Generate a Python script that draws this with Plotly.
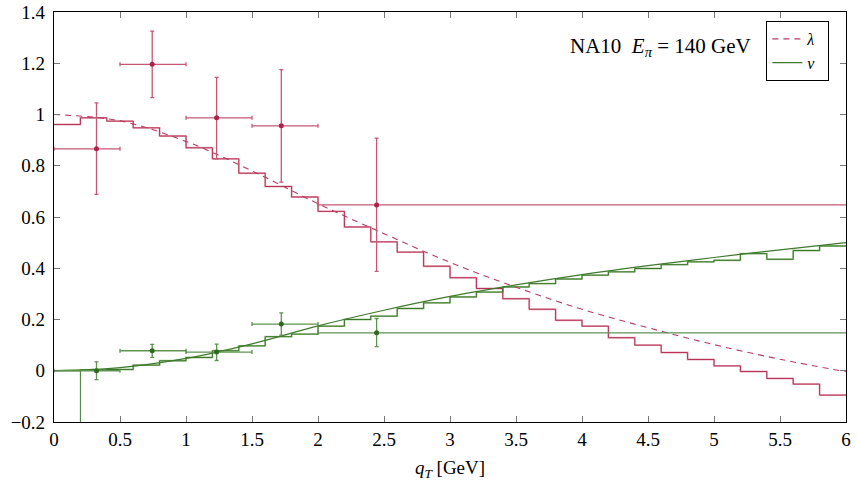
import plotly.graph_objects as go

# ---------------- data ----------------
bin_edges = [round(0.2 * i, 1) for i in range(31)]

lam_hist = [0.961, 0.987, 0.974, 0.948, 0.916, 0.870, 0.827, 0.771, 0.719, 0.678,
            0.622, 0.561, 0.503, 0.463, 0.408, 0.363, 0.321, 0.281, 0.240, 0.197,
            0.174, 0.129, 0.100, 0.071, 0.044, 0.019, -0.003, -0.030, -0.052, -0.095]

nu_hist = [0.0, 0.003, 0.005, 0.022, 0.039, 0.052, 0.078, 0.097, 0.133, 0.143,
           0.174, 0.200, 0.213, 0.243, 0.265, 0.288, 0.307, 0.327, 0.340, 0.358,
           0.373, 0.386, 0.399, 0.414, 0.425, 0.431, 0.457, 0.435, 0.469, 0.487]
nu_hist_first_bin_alt = -1.0   # second histogram: first bin off scale

curve_q = [0.0, 0.5, 1.0, 1.5, 2.0, 2.5, 3.0, 3.5, 4.0, 4.5, 5.0, 5.5, 6.0]
lam_curve = [1.0, 0.975, 0.895, 0.78, 0.652, 0.535, 0.423, 0.326, 0.24, 0.168, 0.102, 0.045, -0.004]
nu_curve = [0.0, 0.012, 0.048, 0.105, 0.175, 0.236, 0.29, 0.335, 0.375, 0.41, 0.442, 0.472, 0.50]

pt_x = [0.322, 0.744, 1.232, 1.722, 2.444]
pt_x_lo = [0.0, 0.5, 1.0, 1.5, 2.0]
pt_x_hi = [0.5, 1.0, 1.5, 2.0, 10.0]

lam_y = [0.866, 1.196, 0.987, 0.956, 0.647]
lam_y_lo = [0.688, 1.066, 0.827, 0.736, 0.388]
lam_y_hi = [1.045, 1.325, 1.145, 1.175, 0.908]

nu_y = [0.0, 0.078, 0.073, 0.182, 0.148]
nu_y_lo = [-0.035, 0.052, 0.040, 0.139, 0.094]
nu_y_hi = [0.035, 0.103, 0.104, 0.226, 0.204]

x_ticks = [0, 0.5, 1, 1.5, 2, 2.5, 3, 3.5, 4, 4.5, 5, 5.5, 6]
x_tick_text = ["0", "0.5", "1", "1.5", "2", "2.5", "3", "3.5", "4", "4.5", "5", "5.5", "6"]
y_ticks = [-0.2, 0, 0.2, 0.4, 0.6, 0.8, 1.0, 1.2, 1.4]
y_tick_text = ["\u22120.2", "0", "0.2", "0.4", "0.6", "0.8", "1", "1.2", "1.4"]

# ---------------- style ----------------
RED = "#B0204A"
RED_PALE = "#E6B0BC"
RED_ERR = "#C65874"
GREEN = "#2E6A1C"
GREEN_PALE = "#A8CC98"
GREEN_ERR = "#5C9450"
FONT = "Liberation Serif, Times New Roman, serif"

fig = go.Figure()


def step_xy(vals):
    return bin_edges, list(vals) + [vals[-1]]


def add_hist(vals, color, width):
    xs, ys = step_xy(vals)
    fig.add_trace(go.Scatter(x=xs, y=ys, mode="lines", line=dict(color=color, width=width, shape="hv"),
                             showlegend=False, hoverinfo="skip"))


# pale (thicker) histograms under dark ones
add_hist(lam_hist, RED_PALE, 1.9)
add_hist(nu_hist, GREEN_PALE, 1.9)
add_hist(lam_hist, RED, 0.9)
add_hist([nu_hist_first_bin_alt] + nu_hist[1:], GREEN, 0.9)

# curves
fig.add_trace(go.Scatter(x=curve_q, y=lam_curve, mode="lines", name="<i>λ</i>  ",
                         line=dict(color="#B83A62", width=1.1, dash="6px,5px", shape="spline")))
fig.add_trace(go.Scatter(x=curve_q, y=nu_curve, mode="lines", name="<i>ν</i>  ",
                         line=dict(color="#3E7A2C", width=1.2, shape="spline")))


def add_points(ys, ylo, yhi, color, ecolor):
    fig.add_trace(go.Scatter(
        x=pt_x, y=ys, mode="markers", showlegend=False,
        marker=dict(color=color, size=5),
        error_x=dict(type="data", symmetric=False,
                     array=[h - x for h, x in zip(pt_x_hi, pt_x)],
                     arrayminus=[x - l for l, x in zip(pt_x_lo, pt_x)],
                     color=ecolor, thickness=1.3, width=2),
        error_y=dict(type="data", symmetric=False,
                     array=[h - y for h, y in zip(yhi, ys)],
                     arrayminus=[y - l for l, y in zip(ylo, ys)],
                     color=ecolor, thickness=1.3, width=2),
    ))


add_points(lam_y, lam_y_lo, lam_y_hi, RED, RED_ERR)
add_points(nu_y, nu_y_lo, nu_y_hi, GREEN, GREEN_ERR)

fig.add_annotation(text="NA10  <i>E</i><sub><i>π</i></sub> = 140 GeV", x=0.882, y=0.915,
                   xref="paper", yref="paper", xanchor="right", yanchor="middle",
                   showarrow=False, font=dict(family=FONT, size=21, color="black"))

axis_common = dict(showline=True, linecolor="black", linewidth=1.2, mirror="allticks",
                   ticks="inside", ticklen=6, tickcolor="#777", tickwidth=1,
                   showgrid=False, zeroline=False, automargin=False,
                   tickfont=dict(family=FONT, size=19, color="black"))

fig.update_xaxes(range=[0, 6], tickvals=x_ticks, ticktext=x_tick_text,
                 title=dict(text="<i>q</i><sub><i>T</i></sub> [GeV]",
                            font=dict(family=FONT, size=19, color="black"), standoff=13),
                 **axis_common)
fig.update_yaxes(range=[-0.2, 1.4], tickvals=y_ticks, ticktext=y_tick_text, ticklabelstandoff=4,
                 **axis_common)

fig.update_layout(
    width=857, height=481, autosize=False,
    margin=dict(l=54, r=11, t=12, b=59),
    plot_bgcolor="white", paper_bgcolor="white",
    font=dict(family=FONT, size=19, color="black"),
    legend=dict(x=0.979, y=0.978, xanchor="right", yanchor="top",
                bordercolor="black", borderwidth=1, bgcolor="white",
                font=dict(family=FONT, size=16), tracegroupgap=0,
                itemwidth=30),
)

fig.write_html("out.html", config={"displayModeBar": False},
               post_script="document.body.style.margin='0';")
